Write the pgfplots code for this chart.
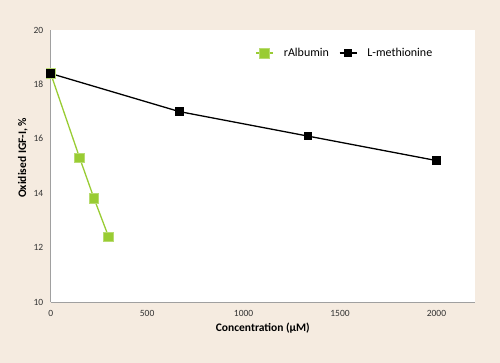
\documentclass[border=0pt]{standalone}
\usepackage{pgfplots}
\pgfplotsset{compat=1.18}
\usepackage{fontspec}
\setmainfont{Carlito}
\definecolor{bg}{HTML}{F5EBE0}
\definecolor{lgreen}{HTML}{99CC33}
\definecolor{axgray}{HTML}{A0A0A0}
\begin{document}
\begin{tikzpicture}[x=1pt,y=1pt]
\fill[bg] (0,0) rectangle (500,363);
\begin{axis}[
  at={(50.7pt,61pt)}, anchor=south west,
  scale only axis, width=424.3pt, height=272pt,
  xmin=0, xmax=2200, ymin=10, ymax=20,
  xtick={0,500,1000,1500,2000}, ytick={10,12,14,16,18,20},
  axis background/.style={fill=white},
  axis x line*=bottom, axis y line*=left,
  axis line style={axgray, line width=0.8pt},
  major tick length=0pt,
  tick label style={font=\fontsize{9.5}{11}\selectfont, text=black!80},
  /pgf/number format/assume math mode=true,
  /pgf/number format/1000 sep={},
  xticklabel style={yshift=-5pt},
  yticklabel style={xshift=-4pt},
  xlabel={\textbf{Concentration (µM)}},
  ylabel={\textbf{Oxidised IGF-I, \%}},
  label style={font=\fontsize{11.5}{13}\selectfont},
  xlabel style={yshift=1pt},
  ylabel style={at={(ticklabel cs:0.53)}, yshift=-1pt},
  legend style={draw=none, fill=none, at={(0.475,0.915)}, anchor=west, font=\fontsize{12}{14}\selectfont, legend columns=2, column sep=8pt},
  legend cell align=left,
  clip=false,
]
\addplot[lgreen, line width=1.3pt, mark=square*, mark size=4.8pt, mark options={fill=lgreen, draw=lgreen!70!white, line width=0.8pt}] coordinates {(0,18.4) (150,15.3) (225,13.8) (300,12.4)};
\addlegendentry{rAlbumin}
\addplot[black, line width=1.3pt, mark=square*, mark size=3.6pt, mark options={fill=black}] coordinates {(0,18.4) (667,17.0) (1333,16.1) (2000,15.2)};
\addlegendentry{L-methionine}
\end{axis}
\end{tikzpicture}
\end{document}
